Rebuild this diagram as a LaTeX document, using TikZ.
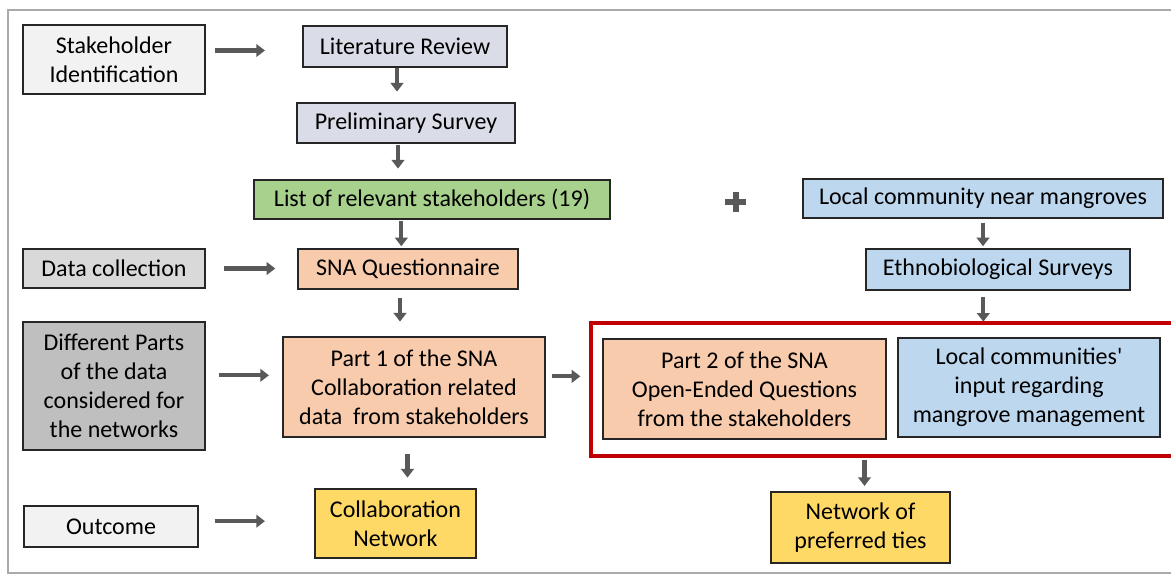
\documentclass[tikz,border=0pt]{standalone}
\usepackage{fontspec}
\setmainfont{Carlito}
\usetikzlibrary{arrows.meta}
\definecolor{lightgraybox}{RGB}{242,242,242}
\definecolor{midgraybox}{RGB}{217,217,217}
\definecolor{darkgraybox}{RGB}{191,191,191}
\definecolor{lavenderbox}{RGB}{218,221,232}
\definecolor{greenbox}{RGB}{169,209,142}
\definecolor{orangebox}{RGB}{248,203,173}
\definecolor{bluebox}{RGB}{189,215,238}
\definecolor{yellowbox}{RGB}{255,217,102}
\definecolor{redframe}{RGB}{192,0,0}
\definecolor{arrowgray}{RGB}{89,89,89}
\definecolor{outerframe}{RGB}{170,170,170}
\begin{document}
\begin{tikzpicture}[x=0.75pt,y=0.75pt,yscale=-1,xscale=1,
    box/.style={draw={rgb,255:red,38;green,38;blue,38}, line width=1.1pt, inner sep=1pt, align=center, font=\fontsize{18}{21.75}\selectfont},
    arr/.style={draw=arrowgray, line width=3.2pt, -{Triangle[length=6.5pt,width=9.5pt]}}]
    \useasboundingbox (0,0) rectangle (1171,581);
    \draw [color=outerframe, line width=1.1pt] (1171,10) -- (8,10) -- (8,573) -- (1171,573);
    \draw [color=redframe, line width=2.4pt] (1171,323) -- (591,323) -- (591,456) -- (1171,456);
    \coordinate (frameNW) at (591,323);
    \coordinate (frameSW) at (591,456);

    \node (ident) at (114,59.5) [box, fill=lightgraybox, minimum width=136.5pt, minimum height=51.75pt] {Stakeholder\\Identification};
    \node (litrev) at (405,46.5) [box, fill=lavenderbox, minimum width=153pt, minimum height=30.75pt] {Literature Review};
    \node (prelim) at (406,123) [box, fill=lavenderbox, minimum width=163.5pt, minimum height=30pt] {Preliminary Survey};
    \node (list) at (432,199.5) [box, fill=greenbox, minimum width=267pt, minimum height=29.25pt] {List of relevant stakeholders (19)};
    \node (local) at (983,198.5) [box, fill=bluebox, minimum width=270pt, minimum height=29.25pt] {Local community near mangroves};
    \node (datacol) at (114,268.5) [box, fill=midgraybox, minimum width=136.5pt, minimum height=29.25pt] {Data collection};
    \node (sna) at (408,269) [box, fill=orangebox, minimum width=165pt, minimum height=30pt] {SNA Questionnaire};
    \node (ethno) at (998,269.5) [box, fill=bluebox, minimum width=198pt, minimum height=30.75pt] {Ethnobiological Surveys};
    \node (parts) at (114,386) [box, fill=darkgraybox, minimum width=136.5pt, minimum height=96pt] {Different Parts\\of the data\\considered for\\the networks};
    \node (part1) at (414,387) [box, fill=orangebox, minimum width=196.5pt, minimum height=75pt] {Part 1 of the SNA\\Collaboration related\\data~ from stakeholders};
    \node (part2) at (744.5,389) [box, fill=orangebox, minimum width=212.25pt, minimum height=75pt] {Part 2 of the SNA\\Open-Ended Questions\\from the stakeholders};
    \node (input) at (1029,387.5) [box, fill=bluebox, minimum width=196.5pt, minimum height=74.25pt] {Local communities\textquotesingle\\input regarding\\mangrove management};
    \node (outcome) at (111,526.5) [box, fill=lightgraybox, minimum width=130.5pt, minimum height=30.75pt] {Outcome};
    \node (collab) at (395.5,523.5) [box, fill=yellowbox, minimum width=120.75pt, minimum height=51.75pt] {Collaboration\\Network};
    \node (pref) at (860.5,527.5) [box, fill=yellowbox, minimum width=134.25pt, minimum height=53.25pt] {Network of\\preferred ties};

    \draw [color=arrowgray, line width=4.5pt] (725,202) -- (746,202) (735.5,192) -- (735.5,212);

    \draw [arr, shorten <=7pt, shorten >=28pt] ([yshift=3pt]ident.east |- litrev.west) -- ([yshift=3pt]litrev.west);
    \draw [arr, shorten <=14pt, shorten >=16.5pt] (datacol.east) -- (datacol.east -| sna.west);
    \draw [arr, shorten <=10pt, shorten >=10pt] ([yshift=-8pt]parts.east) -- ([yshift=-8pt]parts.east -| part1.west);
    \draw [arr, shorten <=4.5pt, shorten >=8pt] ([yshift=-8pt]part1.east) -- ([yshift=-8pt]part1.east -| frameNW);
    \draw [arr, shorten <=12pt, shorten >=37pt] ([yshift=-4pt]outcome.east) -- ([yshift=-4pt]outcome.east -| collab.west);

    \draw [arr, shorten >=8pt] ([xshift=-6pt]litrev.south) -- ([xshift=-6pt]litrev.south |- prelim.north);
    \draw [arr, shorten <=1pt, shorten >=8pt] ([xshift=-6pt]prelim.south) -- ([xshift=-6pt]prelim.south |- list.north);
    \draw [arr, shorten <=1pt, shorten >=1.5pt] ([xshift=-5pt]sna.north |- list.south) -- ([xshift=-5pt]sna.north);
    \draw [arr, shorten <=6pt, shorten >=11pt] ([xshift=-6pt]sna.south) -- ([xshift=-6pt]sna.south |- part1.north);
    \draw [arr, shorten <=12pt, shorten >=8pt] ([xshift=9pt]collab.north |- part1.south) -- ([xshift=9pt]collab.north);
    \draw [arr, shorten <=3pt, shorten >=1.5pt] (local.south) -- (local.south |- ethno.north);
    \draw [arr, shorten <=5pt, shorten >=1pt] ([xshift=-11pt]ethno.south) -- ([xshift=-11pt]ethno.south |- frameNW);
    \draw [arr, shorten <=3pt, shorten >=4pt] ([xshift=3pt]pref.north |- frameSW) -- ([xshift=3pt]pref.north);
\end{tikzpicture}
\end{document}
